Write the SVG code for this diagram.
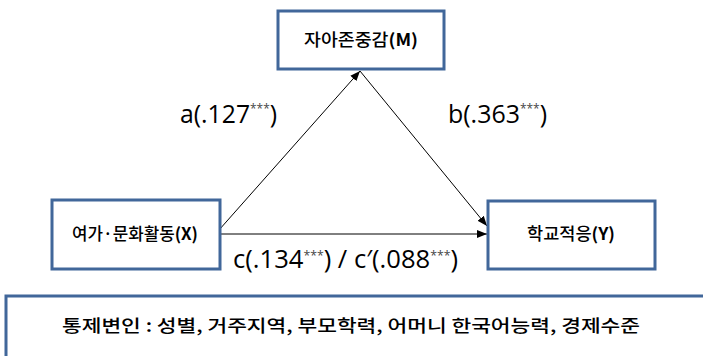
<svg xmlns="http://www.w3.org/2000/svg" width="703" height="356" viewBox="0 0 703 356">
<style>
.box{fill:#fff;stroke:#41679a;stroke-width:3}
.lbl{font-family:"Noto Sans CJK KR","Noto Sans",sans-serif;font-size:17px;font-weight:500;fill:#000;text-anchor:middle}
.coef{font-family:"Open Sans","Noto Sans",sans-serif;font-size:25px;fill:#000}
.sup{font-size:12px;fill:#444}
.ln{stroke:#000;stroke-width:1;fill:none;marker-end:url(#ah)}
</style>
<defs>
<marker id="ah" viewBox="0 0 10 10" refX="10" refY="5" markerWidth="10" markerHeight="10" markerUnits="userSpaceOnUse" orient="auto">
<path d="M0,1 L10,5 L0,9 z" fill="#000"/>
</marker>
</defs>
<rect width="703" height="356" fill="#fff"/>
<g id="connectors">
<line class="ln" x1="219" y1="230" x2="360" y2="71"/>
<line class="ln" x1="360" y1="71" x2="487" y2="226"/>
<line class="ln" x1="220" y1="234" x2="487" y2="234"/>
</g>
<g id="node-M">
<rect class="box" x="278" y="11" width="166" height="58"/>
<text class="lbl" x="361" y="46" textLength="114" lengthAdjust="spacingAndGlyphs">자아존중감<tspan font-weight="bold">(M)</tspan></text>
</g>
<g id="node-X">
<rect class="box" x="52" y="200" width="168" height="69"/>
<text class="lbl" x="135" y="240" textLength="126" lengthAdjust="spacingAndGlyphs">여가·문화활동<tspan font-weight="bold">(X)</tspan></text>
</g>
<g id="node-Y">
<rect class="box" x="488" y="201" width="167" height="68"/>
<text class="lbl" x="571" y="240" textLength="88" lengthAdjust="spacingAndGlyphs">학교적응<tspan font-weight="bold">(Y)</tspan></text>
</g>
<g id="labels">
<text class="coef" x="180" y="123" textLength="97" lengthAdjust="spacingAndGlyphs">a(.127<tspan class="sup" dy="-10">***</tspan><tspan dy="10">)</tspan></text>
<text class="coef" x="448" y="123" textLength="99" lengthAdjust="spacingAndGlyphs">b(.363<tspan class="sup" dy="-10">***</tspan><tspan dy="10">)</tspan></text>
<text class="coef" x="233" y="268" font-size="21" textLength="225" lengthAdjust="spacingAndGlyphs">c(.134<tspan class="sup" font-size="11" dy="-8">***</tspan><tspan dy="8">)  /  c′(.088</tspan><tspan class="sup" font-size="11" dy="-8">***</tspan><tspan dy="8">)</tspan></text>
</g>
<g id="node-controls">
<rect class="box" x="6" y="296" width="710" height="70"/>
<text class="lbl" x="351" y="332" font-weight="bold" font-size="19" textLength="578" lengthAdjust="spacingAndGlyphs">통제변인 : 성별, 거주지역, 부모학력, 어머니 한국어능력, 경제수준</text>
</g>
</svg>
